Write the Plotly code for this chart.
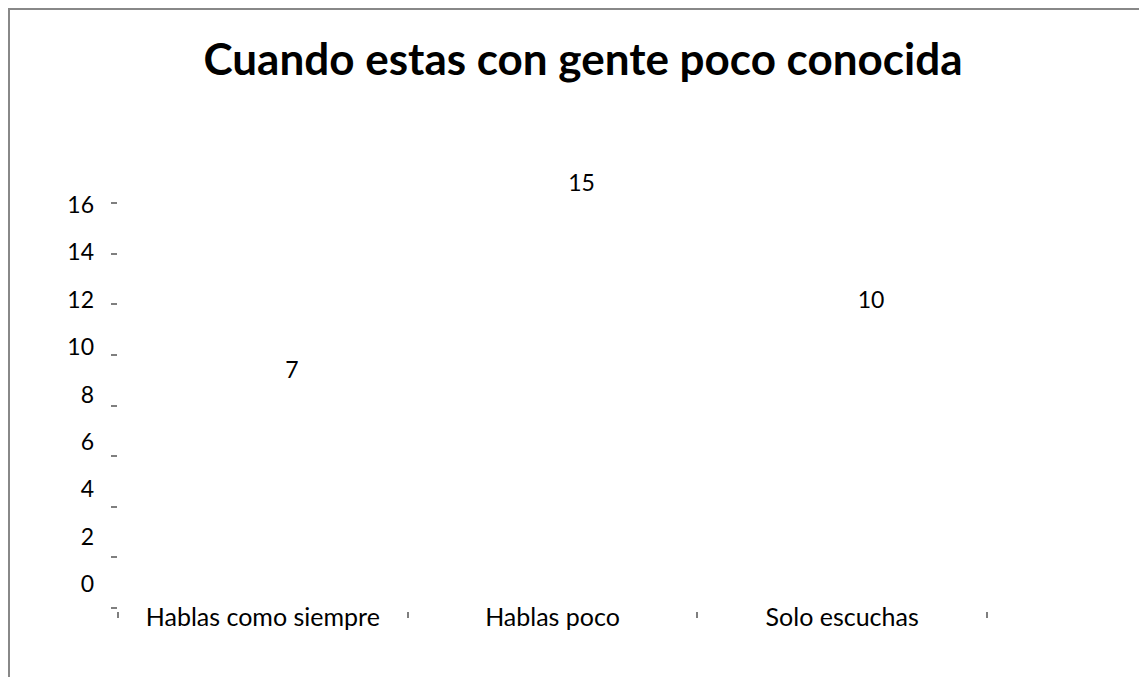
import plotly.graph_objects as go

categories = ["Hablas como siempre", "Hablas poco", "Solo escuchas"]
values = [7, 15, 10]
y_ticks = [0, 2, 4, 6, 8, 10, 12, 14, 16]
title_text = "Cuando estas con gente poco conocida"

OFF = 8  # page body margin
W, H = 1147 - OFF, 677 - OFF
L, R = 118 - OFF, 987 - OFF
T, B = 170 - OFF, 611 - OFF
ph = B - T
pw = R - L

def rng(zero_screen, per_unit):
    z = zero_screen - OFF
    lo = -(B - z) / per_unit
    hi = (z - T) / per_unit
    return [lo, hi]

FONT = "Lato"
TICK_COLOR = "#7f7f7f"

fig = go.Figure()

fig.add_trace(go.Bar(x=categories, y=values,
                     marker=dict(color="rgba(0,0,0,0)", line=dict(width=0)),
                     hoverinfo="skip", showlegend=False, xaxis="x", yaxis="y"))
fig.add_trace(go.Scatter(x=categories, y=values, mode="markers", marker=dict(opacity=0),
                         hoverinfo="skip", showlegend=False, xaxis="x", yaxis="y2"))
fig.add_trace(go.Scatter(x=categories, y=values, mode="text", text=[str(v) for v in values],
                         textposition="middle center",
                         textfont=dict(family=FONT, size=23, color="#000000"),
                         hoverinfo="skip", showlegend=False, xaxis="x2", yaxis="y3"))

fig.update_layout(
    width=W, height=H,
    margin=dict(l=L, r=W - R, t=T, b=H - B),
    paper_bgcolor="white", plot_bgcolor="white",
    title=dict(text="<b>" + title_text + "</b>", xref="container", x=(583 - OFF) / W,
               xanchor="center", y=1 - (60 - OFF) / H, yanchor="middle",
               font=dict(family=FONT, size=44, color="#000000")),
    xaxis=dict(type="category", range=[-0.5, 2.5], showgrid=False, zeroline=False,
               showline=False, ticks="outside", tickson="boundaries", ticklen=6,
               tickcolor=TICK_COLOR, tickwidth=1.5, ticklabelstandoff=-11,
               tickfont=dict(family=FONT, size=25, color="#000000")),
    xaxis2=dict(type="category", overlaying="x", range=[-0.6, 2.4], visible=False),
    yaxis=dict(range=rng(584, (584 - 205) / 16), tickvals=y_ticks, showgrid=False,
               zeroline=False, showline=False, ticks="",
               ticklabelstandoff=23,
               tickfont=dict(family=FONT, size=23, color="#000000")),
    yaxis2=dict(overlaying="y", range=rng(608, (608 - 203) / 16), tickvals=y_ticks,
                showgrid=False, zeroline=False, showline=False, showticklabels=False,
                ticks="outside", ticklen=6, tickcolor=TICK_COLOR, tickwidth=1.5),
    yaxis3=dict(overlaying="y", range=rng(536, 23.4), visible=False),
    shapes=[dict(type="rect", xref="paper", yref="paper",
                 x0=(1 - L) / pw, x1=(W + 20 - L) / pw,
                 y0=(B - (H + 20)) / ph, y1=(B - 1) / ph,
                 line=dict(color="#888888", width=2), fillcolor="rgba(0,0,0,0)", layer="below")],
)

fig.write_html("out.html")
